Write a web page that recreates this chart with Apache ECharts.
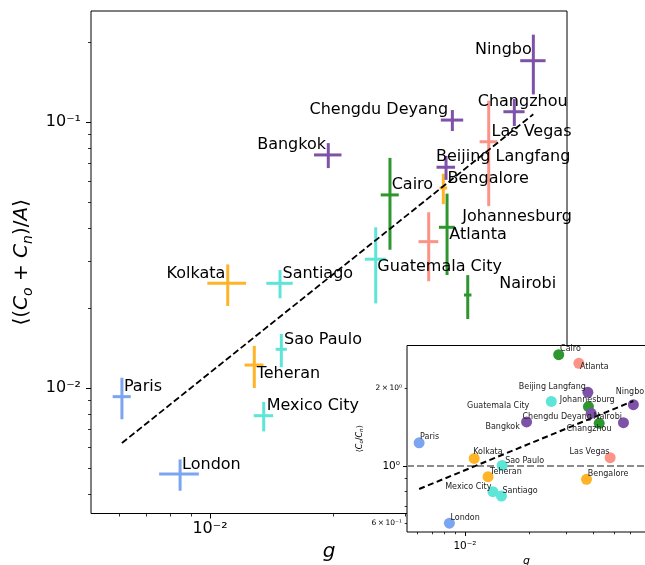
<!DOCTYPE html>
<html><head><meta charset="utf-8">
<script src="https://cdn.jsdelivr.net/npm/echarts@6/dist/echarts.min.js"></script>
<style>html,body{margin:0;padding:0;background:#fff}#c{width:645px;height:565px}</style>
</head><body><div id="c"></div>
<script>
// ---------------- data ----------------
const cities   = ['Paris','London','Kolkata','Teheran','Bengalore','Santiago','Sao Paulo','Mexico City','Guatemala City','Cairo','Johannesburg','Nairobi','Atlanta','Las Vegas','Bangkok','Chengdu Deyang','Beijing Langfang','Changzhou','Ningbo'];
const g        = [0.00609,0.00845,0.01105,0.01283,0.03719,0.01483,0.01494,0.01353,0.02542,0.02754,0.03798,0.04267,0.03425,0.04802,0.01946,0.03913,0.03776,0.05546,0.06173];
const gErr     = [0.00031,0.00094,0.0012,0.00068,0.0008,0.0011,0.00047,0.00074,0.0015,0.0014,0.0017,0.0009,0.0019,0.0024,0.0015,0.00246,0.00197,0.0033,0.0044];
const meanC    = [0.00928,0.00475,0.02475,0.0122,0.0565,0.02475,0.01398,0.00787,0.0305,0.0532,0.0402,0.02237,0.0355,0.0843,0.0752,0.1017,0.0676,0.1093,0.170];
const meanCErr = [0.00165,0.00064,0.0044,0.0022,0.0074,0.0030,0.0020,0.0010,0.0097,0.0201,0.0136,0.0042,0.0103,0.036,0.0081,0.0092,0.0070,0.0127,0.043];
const ratio    = [1.23,0.60,1.07,0.909,0.888,0.765,1.005,0.795,1.78,2.70,1.70,1.464,2.50,1.077,1.481,1.60,1.93,1.472,1.728];
const fitG        = [0.00609, 0.0617];
const fitMainC    = [0.00621, 0.1069];
const fitInsetR   = [0.814, 1.786];
const mainXTicks  = [0.01];
const mainXMinor  = [0.006,0.007,0.008,0.009,0.02,0.03,0.04,0.05,0.06,0.07];
const mainYTicks  = [0.01, 0.1];
const mainYMinor  = [0.004,0.005,0.006,0.007,0.008,0.009,0.02,0.03,0.04,0.05,0.06,0.07,0.08,0.09,0.2];
const insetXTicks = [0.01];
const insetXMinor = [0.006,0.007,0.008,0.009,0.02,0.03,0.04,0.05,0.06,0.07];
const insetYTicks = [1];
const insetYMinor = [0.6,0.7,0.8,0.9,2];
const insetYMinorLabels = [0.6, 2];

// ---------------- styles / layout ----------------
const palette = {blue:'#7BA5F0', orange:'#FFB326', turq:'#5DE5D7', green:'#2E962E', salmon:'#FB9387', purple:'#7D52A8'};
const cityColor = {'Paris':'blue','London':'blue','Kolkata':'orange','Teheran':'orange','Bengalore':'orange',
  'Santiago':'turq','Sao Paulo':'turq','Mexico City':'turq','Guatemala City':'turq',
  'Cairo':'green','Johannesburg':'green','Nairobi':'green','Atlanta':'salmon','Las Vegas':'salmon',
  'Bangkok':'purple','Chengdu Deyang':'purple','Beijing Langfang':'purple','Changzhou':'purple','Ningbo':'purple'};
// [dx, dBaseline, align] in px relative to the point
const mainLabelLayout = {'Paris':[2,-4,'left'],'London':[2,-4,'left'],'Kolkata':[-2.4,-4,'right'],'Santiago':[2.5,-4.3,'left'],
  'Sao Paulo':[2.7,-4.3,'left'],'Teheran':[2.4,14.3,'left'],'Mexico City':[3,-4.7,'left'],'Bangkok':[-2.3,-5,'right'],
  'Chengdu Deyang':[-4.3,-5,'right'],'Beijing Langfang':[-10,-4.8,'left'],'Bengalore':[4.2,-3.8,'left'],'Cairo':[1.7,-5,'left'],
  'Johannesburg':[15.2,-5.3,'left'],'Atlanta':[20.6,-1.2,'left'],'Guatemala City':[1.6,13.4,'left'],'Nairobi':[31.6,-5.7,'left'],
  'Ningbo':[-1.6,-5,'right'],'Changzhou':[-36.6,-4.7,'left'],'Las Vegas':[2.8,-4.7,'left']};
const insetLabelLayout = {'Cairo':[1.4,-3,'left'],'Atlanta':[1,6.7,'left'],'Beijing Langfang':[-2,-2.3,'right'],'Guatemala City':[-22,7,'right'],
  'Johannesburg':[-28.6,-3.4,'left'],'Chengdu Deyang':[-68.7,6.7,'left'],'Nairobi':[-5.7,-3.3,'left'],'Changzhou':[-12,9,'right'],
  'Ningbo':[-17.6,-10.4,'left'],'Bangkok':[-6.7,7.3,'right'],'Paris':[1,-2.7,'left'],'Kolkata':[-1,-3.3,'left'],'Sao Paulo':[3,-1.7,'left'],
  'Teheran':[2,-2.4,'left'],'Mexico City':[-1.6,-1.7,'right'],'Santiago':[1,-2.7,'left'],'Las Vegas':[-0.6,-2.7,'right'],
  'Bengalore':[1.3,-2.6,'left'],'London':[1,-2.6,'left']};

const FONT = 'DejaVu Sans';
const SUP = {'-':'⁻','0':'⁰','1':'¹','2':'²','3':'³','4':'⁴','5':'⁵','6':'⁶','7':'⁷','8':'⁸','9':'⁹'};
function supStr(n){ return String(n).split('').map(ch => SUP[ch]).join(''); }
function majorLabel(v){ const e = Math.round(Math.log10(v)); return '10' + supStr(e); }
function minorLabel(v){ const e = Math.floor(Math.log10(v) + 1e-9); const m = Math.round(v / Math.pow(10, e)); return m + '\u2009×\u200910' + supStr(e); }
function colorOf(i){ return palette[cityColor[cities[i]]]; }

const mainGrid  = {left:91, top:11, width:476, height:502.5};
const insetGrid = {left:407, top:345.5, width:239, height:186.5};
const mainX  = {min:0.005117, max:0.07461};
const mainY  = {min:0.003375, max:0.2614};
const insetX = {min:0.005342, max:0.07076};
const insetY = {min:0.5548, max:2.931};

function majorAxis(pos, gridIndex, ext, ticks, fontSize, tickLen, margin, extra){
  return Object.assign({
    type:'log', logBase:10, position:pos, gridIndex, min:ext.min, max:ext.max, z: gridIndex ? 11 : 1,
    axisLine:{show:false}, splitLine:{show:false}, minorTick:{show:false},
    axisTick:{show:true, inside:false, length:tickLen, customValues:ticks, lineStyle:{color:'#000', width:1}},
    axisLabel:{show:true, customValues:ticks, formatter:majorLabel, color:'#000', fontFamily:FONT, fontSize, margin}
  }, extra || {});
}
function minorAxis(pos, gridIndex, ext, ticks, tickLen, labelOpts){
  return {
    type:'log', logBase:10, position:pos, offset:0, gridIndex, min:ext.min, max:ext.max, z: gridIndex ? 11 : 1,
    axisLine:{show:false}, splitLine:{show:false}, minorTick:{show:false},
    axisTick:{show:true, inside:false, length:tickLen, customValues:ticks, lineStyle:{color:'#000', width:0.8}},
    axisLabel: labelOpts || {show:false}
  };
}

const mainYName = '{u|⟨(}{i|C}{s|o}{u| + }{i|C}{s|n}{u|)/}{i|A}{u|⟩}';
const insetYName = '{u|⟨}{i|C}{s|o}{u|/}{i|C}{s|n}{u|⟩}';
function nameRich(fs){
  return {
    u:{fontFamily:FONT, fontSize:fs, color:'#000'},
    i:{fontFamily:FONT, fontSize:fs, fontStyle:'italic', color:'#000'},
    s:{fontFamily:FONT, fontSize:fs*0.7, fontStyle:'italic', color:'#000', padding:[fs*0.6,0,0,0]}
  };
}

const option = {
  animation:false,
  backgroundColor:'#fff',
  grid:[
    Object.assign({show:true, borderColor:'#000', borderWidth:1, backgroundColor:'transparent', z:0, containLabel:false, outerBoundsMode:'none'}, mainGrid),
    Object.assign({show:true, borderColor:'#000', borderWidth:1, backgroundColor:'#fff', z:10, containLabel:false, outerBoundsMode:'none'}, insetGrid)
  ],
  xAxis:[
    majorAxis('bottom', 0, mainX, mainXTicks, 16, 5, 7.5, {name:'g', nameLocation:'middle', nameGap:27,
      nameTextStyle:{fontFamily:FONT, fontSize:20, fontStyle:'italic', color:'#000'}}),
    minorAxis('bottom', 0, mainX, mainXMinor, 3),
    majorAxis('bottom', 1, insetX, insetXTicks, 10.5, 4, 9, {name:'g', nameLocation:'middle', nameGap:24,
      nameTextStyle:{fontFamily:FONT, fontSize:11, fontStyle:'italic', color:'#000'}}),
    minorAxis('bottom', 1, insetX, insetXMinor, 2.3)
  ],
  yAxis:[
    majorAxis('left', 0, mainY, mainYTicks, 16, 5, 10, {name:mainYName, nameLocation:'middle', nameGap:48, nameRotate:90,
      nameTextStyle:{rich:nameRich(20)}}),
    minorAxis('left', 0, mainY, mainYMinor, 3),
    majorAxis('left', 1, insetY, insetYTicks, 10.5, 4, 7, {name:insetYName, nameLocation:'middle', nameGap:42, nameRotate:90,
      nameTextStyle:{rich:nameRich(8)}}),
    minorAxis('left', 1, insetY, insetYMinor, 2.3, {show:true, customValues:insetYMinorLabels, formatter:minorLabel,
      color:'#000', fontFamily:FONT, fontSize:7.5, margin:5})
  ],
  series:[
    { // error-bar crosses
      type:'custom', xAxisIndex:0, yAxisIndex:0, z:3, clip:false,
      data: cities.map((c,i)=>[g[i], meanC[i], gErr[i], meanCErr[i]]),
      renderItem(params, api){
        const i = params.dataIndex;
        const x = api.value(0), y = api.value(1), ex = api.value(2), ey = api.value(3);
        const l = api.coord([x-ex, y]), r = api.coord([x+ex, y]);
        const t = api.coord([x, y+ey]), b = api.coord([x, y-ey]);
        const st = {stroke: colorOf(i), lineWidth: 3};
        return {type:'group', children:[
          {type:'line', shape:{x1:l[0], y1:l[1], x2:r[0], y2:r[1]}, style:st},
          {type:'line', shape:{x1:t[0], y1:t[1], x2:b[0], y2:b[1]}, style:st}
        ]};
      }
    },
    { // fit line main
      type:'line', xAxisIndex:0, yAxisIndex:0, z:4, symbol:'none', silent:true,
      data: fitG.map((x,i)=>[x, fitMainC[i]]),
      lineStyle:{color:'#000', width:1.8, type:[6.5,3]}
    },
    { // main labels
      type:'custom', xAxisIndex:0, yAxisIndex:0, z:5, clip:false,
      data: cities.map((c,i)=>[g[i], meanC[i]]),
      renderItem(params, api){
        const i = params.dataIndex;
        const p = api.coord([api.value(0), api.value(1)]);
        const L = mainLabelLayout[cities[i]];
        return {type:'text', x:p[0]+L[0], y:p[1]+L[1]-0.346*16,
          style:{text:cities[i], fill:'#000', fontFamily:FONT, fontSize:16, align:L[2], verticalAlign:'middle'}};
      }
    },
    { // inset scatter
      type:'scatter', xAxisIndex:2, yAxisIndex:2, z:12, symbolSize:11,
      data: cities.map((c,i)=>({value:[g[i], ratio[i]], itemStyle:{color:colorOf(i), opacity:1}})),
      markLine:{silent:true, symbol:'none', z:11, label:{show:false},
        lineStyle:{color:'#8c8c8c', width:2, type:[7,3]}, data:[{yAxis:1}]}
    },
    { // inset fit line
      type:'line', xAxisIndex:2, yAxisIndex:2, z:13, symbol:'none', silent:true,
      data: fitG.map((x,i)=>[x, fitInsetR[i]]),
      lineStyle:{color:'#000', width:2, type:[6,3.5]}
    },
    { // inset labels
      type:'custom', xAxisIndex:2, yAxisIndex:2, z:14, clip:false,
      data: cities.map((c,i)=>[g[i], ratio[i]]),
      renderItem(params, api){
        const i = params.dataIndex;
        const p = api.coord([api.value(0), api.value(1)]);
        const L = insetLabelLayout[cities[i]];
        return {type:'text', x:p[0]+L[0], y:p[1]+L[1]-0.346*8,
          style:{text:cities[i], fill:'#222', fontFamily:FONT, fontSize:8, align:L[2], verticalAlign:'middle'}};
      }
    }
  ]
};
const chart = echarts.init(document.getElementById('c'), null, {renderer:'canvas'});
chart.setOption(option);
</script></body></html>
